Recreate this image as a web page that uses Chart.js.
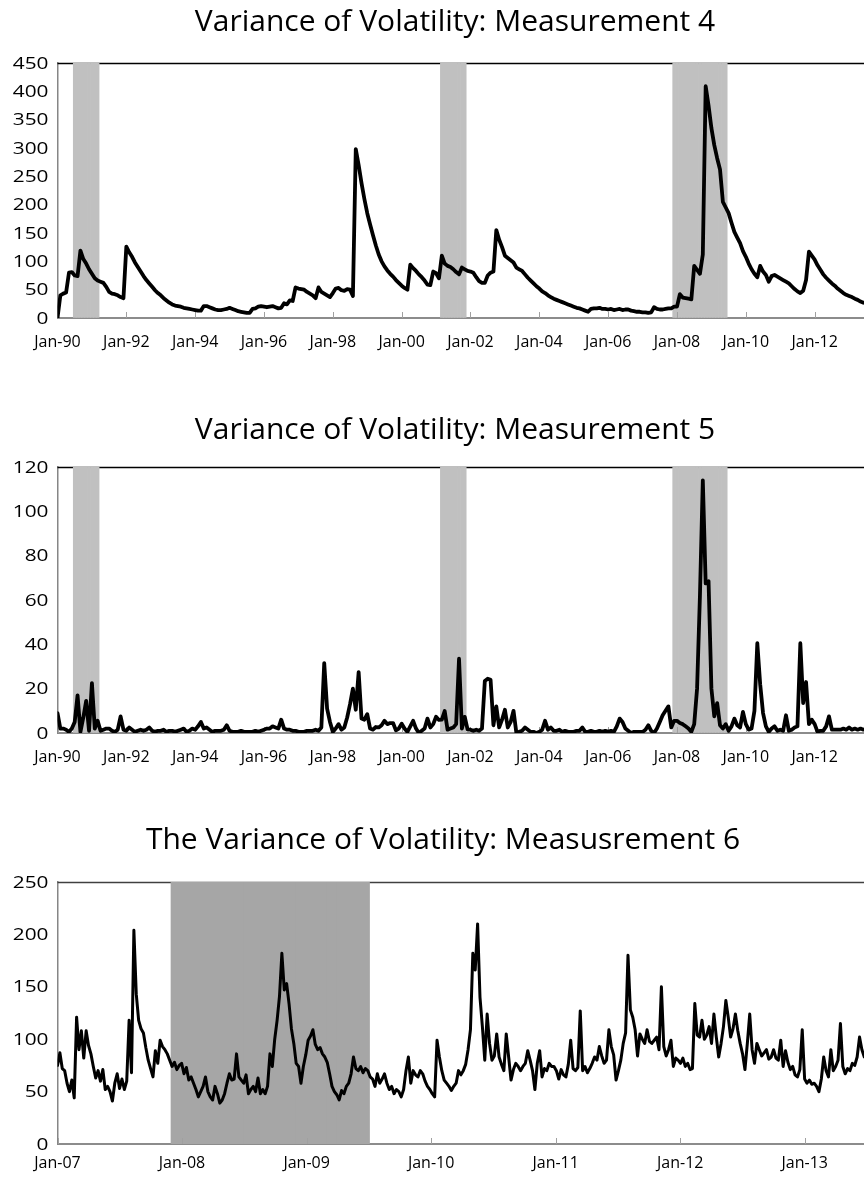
<!DOCTYPE html>
<html>
<head>
<meta charset="utf-8">
<title>Variance of Volatility</title>
<script src="https://cdn.jsdelivr.net/npm/chart.js@4.4.1/dist/chart.umd.min.js"></script>
<style>
  html, body { margin: 0; padding: 0; background: #fff; overflow: hidden; width: 864px; height: 1182px; }
  .panel { position: absolute; left: 0; }
</style>
</head>
<body>
<div class="panel" style="top:0;width:910px;height:352px"><canvas id="chartM4"></canvas></div>
<div class="panel" style="top:408px;width:910px;height:362px"><canvas id="chartM5"></canvas></div>
<div class="panel" style="top:818px;width:886px;height:364px"><canvas id="chartM6"></canvas></div>
<script>
// ---- Measurement 4: monthly, Jan-1990 onward ----
const m4_1990 = [0, 40, 43, 45, 80, 81, 75, 74, 119, 104, 96, 86];
const m4_1991 = [78, 70, 66, 64, 62, 55, 46, 43, 42, 40, 37, 35];
const m4_1992 = [126, 116, 108, 98, 90, 82, 74, 67, 61, 55, 49, 44];
const m4_1993 = [40, 35, 31, 27, 24, 22, 21, 20, 18, 17, 16, 15];
const m4_1994 = [14, 13, 13, 21, 21, 19, 17, 15, 14, 14, 15, 16];
const m4_1995 = [18, 16, 14, 12, 11, 10, 9, 9, 16, 17, 20, 21];
const m4_1996 = [20, 19, 20, 21, 19, 17, 18, 26, 24, 31, 30, 54];
const m4_1997 = [52, 51, 50, 46, 43, 40, 35, 54, 46, 43, 40, 37];
const m4_1998 = [44, 52, 53, 49, 48, 51, 50, 39, 298, 270, 238, 210];
const m4_1999 = [185, 165, 146, 128, 112, 100, 91, 84, 78, 73, 67, 62];
const m4_2000 = [57, 53, 50, 94, 88, 83, 77, 72, 66, 59, 58, 82];
const m4_2001 = [79, 70, 110, 96, 92, 90, 86, 81, 77, 89, 86, 83];
const m4_2002 = [82, 80, 72, 65, 62, 62, 75, 80, 82, 155, 138, 125];
const m4_2003 = [110, 106, 102, 98, 89, 86, 83, 77, 71, 66, 61, 56];
const m4_2004 = [52, 47, 44, 40, 37, 34, 32, 30, 28, 26, 24, 22];
const m4_2005 = [20, 18, 17, 15, 13, 11, 16, 17, 17, 18, 16, 16];
const m4_2006 = [15, 16, 14, 15, 16, 14, 15, 15, 13, 12, 11, 11];
const m4_2007 = [10, 10, 9, 10, 19, 16, 15, 15, 16, 17, 17, 20];
const m4_2008 = [20, 42, 36, 35, 34, 33, 92, 85, 78, 112, 409, 375];
const m4_2009 = [335, 305, 282, 262, 205, 195, 185, 168, 152, 142, 132, 118];
const m4_2010 = [108, 96, 86, 78, 72, 92, 82, 76, 64, 74, 76, 73];
const m4_2011 = [70, 67, 64, 61, 56, 51, 47, 44, 48, 67, 117, 110];
const m4_2012 = [103, 93, 85, 77, 71, 66, 61, 57, 52, 48, 44, 41];
const m4_2013 = [39, 37, 34, 32, 29, 27, 26, 24, 23, 22, 21, 20];

// ---- Measurement 5: monthly, Jan-1990 onward ----
const m5_1990 = [9, 2, 2, 1.5, 0.5, 2, 5, 17, 0.5, 7, 14.5, 1];
const m5_1991 = [22.5, 2, 5.5, 1, 1.5, 2, 2, 1, 0.5, 1.5, 7.5, 1.5];
const m5_1992 = [1, 2.5, 1.5, 0.5, 1, 1.5, 1, 1.5, 2.5, 1, 0.5, 1];
const m5_1993 = [1, 1.5, 0.5, 1, 1, 0.5, 1, 1.5, 2, 0.5, 1, 2];
const m5_1994 = [1.5, 3, 5, 2, 2.5, 1.5, 0.5, 1, 1, 1, 1.5, 3.5];
const m5_1995 = [1, 0.5, 0.5, 0.5, 1, 0.5, 0.5, 0.5, 0.5, 1, 0.5, 1];
const m5_1996 = [1.5, 2, 2, 3, 2.5, 2, 6, 2, 1.5, 1.5, 1, 1];
const m5_1997 = [0.5, 0.5, 0.5, 1, 1, 1, 1.5, 1, 2.5, 31.5, 11, 5];
const m5_1998 = [0.5, 2, 4, 1.5, 2.5, 7, 13, 20, 10.5, 27.5, 6.5, 6];
const m5_1999 = [8.5, 2, 1.5, 2.7, 2.5, 3.5, 5.5, 4, 4.5, 4.5, 1.2, 2];
const m5_2000 = [4.2, 2, 0.5, 3, 5.5, 2, 0, 1, 2, 6.5, 2.5, 4];
const m5_2001 = [7.3, 5.9, 6, 9.9, 1.5, 2, 2.5, 4, 33.5, 2, 7.3, 1.5];
const m5_2002 = [1.5, 1, 1.5, 1, 2, 23.5, 24.5, 24, 3.5, 12, 2.5, 6];
const m5_2003 = [10.5, 2.5, 5, 10, 0, 0.5, 1, 2.5, 1.5, 0.5, 0.5, 0];
const m5_2004 = [0.5, 1.5, 5.5, 1.5, 2.5, 1, 1, 1.5, 0.5, 1, 0.5, 0.5];
const m5_2005 = [0.5, 1, 1, 2.5, 0.5, 0.5, 1, 0.5, 0.5, 1, 0.5, 1];
const m5_2006 = [0.5, 1, 0.5, 3, 6.5, 5, 2, 1, 0, 0.5, 0.5, 0.5];
const m5_2007 = [0.5, 1.5, 3.5, 1, 0, 2, 5, 8, 10, 12, 2.5, 5.5];
const m5_2008 = [5.5, 4.5, 4, 3, 2, 0.5, 4, 20, 62, 114, 67.5, 68.5];
const m5_2009 = [20, 7.5, 13.5, 3.5, 2, 4, 1, 3, 6.5, 3.5, 2.5, 9.5];
const m5_2010 = [4, 1.5, 2, 10, 40.5, 22, 9, 3, 0.5, 2, 3, 1];
const m5_2011 = [1.5, 1, 8, 1, 1.5, 2.5, 3, 40.5, 13.5, 23, 4, 6];
const m5_2012 = [4, 0.5, 1, 1, 3, 7.5, 1.5, 1.5, 1.5, 1.5, 2, 1.5];
const m5_2013 = [2.5, 1.5, 2, 1.5, 2, 1.5, 2, 1.5, 2, 1.5, 1, 1];

// ---- Measurement 6: weekly, from the first week of 2007 ----
const m6_2007 = [75, 87, 72, 70, 58, 50, 61, 44, 121, 90, 108, 82, 108, 94, 86, 74, 63, 70, 60, 71, 52, 55, 50, 41, 58, 67, 53, 62, 52, 60, 118, 68, 204, 143, 118, 110, 106, 92, 80, 72, 64, 89, 77, 99, 93, 90, 86, 80, 74, 78, 71, 75];
const m6_2008 = [77, 67, 73, 61, 64, 58, 52, 45, 50, 55, 64, 50, 45, 42, 55, 48, 39, 42, 48, 58, 67, 61, 62, 86, 64, 61, 58, 66, 48, 52, 55, 50, 63, 48, 52, 48, 55, 86, 74, 100, 118, 141, 182, 147, 153, 134, 110, 96, 77, 74, 58, 74];
const m6_2009 = [85, 99, 103, 109, 95, 90, 92, 86, 83, 78, 67, 55, 50, 47, 42, 51, 48, 55, 58, 67, 83, 72, 70, 74, 68, 72, 70, 64, 62, 55, 67, 58, 62, 67, 58, 52, 55, 48, 52, 50, 45, 52, 70, 83, 58, 70, 66, 64, 70, 67, 60, 55];
const m6_2010 = [52, 48, 45, 99, 83, 70, 61, 58, 55, 51, 55, 58, 70, 66, 70, 76, 90, 109, 182, 166, 210, 140, 112, 80, 124, 96, 80, 84, 105, 83, 76, 70, 105, 83, 61, 71, 77, 74, 70, 74, 77, 89, 80, 70, 52, 77, 89, 64, 72, 70, 77, 74];
const m6_2011 = [74, 70, 62, 71, 66, 64, 76, 99, 72, 70, 73, 127, 70, 74, 68, 72, 77, 83, 80, 93, 84, 77, 80, 109, 93, 85, 61, 70, 80, 96, 106, 180, 128, 121, 109, 84, 105, 100, 96, 109, 98, 96, 99, 102, 90, 150, 93, 84, 90, 99, 74, 82];
const m6_2012 = [80, 77, 82, 74, 77, 71, 72, 134, 104, 102, 118, 100, 104, 112, 96, 124, 102, 83, 96, 112, 137, 121, 102, 110, 124, 108, 96, 86, 71, 96, 124, 90, 77, 96, 90, 84, 87, 90, 81, 83, 90, 82, 80, 99, 74, 89, 78, 71, 74, 66, 64, 71];
const m6_2013 = [109, 62, 58, 61, 57, 58, 55, 50, 62, 83, 70, 64, 90, 70, 74, 80, 115, 74, 67, 72, 70, 77, 75, 83, 102, 90, 83, 88, 80, 85, 90, 82];

// ---- Axis settings and recession periods ----
const titles = [
  'Variance of Volatility: Measurement 4',
  'Variance of Volatility: Measurement 5',
  'The Variance of Volatility: Measusrement 6'
];
const yTicks4 = [0, 450, 50];   // min, max, step
const yTicks5 = [0, 120, 20];
const yTicks6 = [0, 250, 50];
const recessions = [[1990, 7, 1991, 3], [2001, 3, 2001, 11], [2007, 12, 2009, 6]];

const FONT = "'Open Sans', 'Liberation Sans', sans-serif";
const monthlyStartYear = 1990;
const weeklyStartYear = 2007;
const daysPerYear = 365.25;

const measure4 = [].concat(m4_1990, m4_1991, m4_1992, m4_1993, m4_1994, m4_1995, m4_1996, m4_1997,
  m4_1998, m4_1999, m4_2000, m4_2001, m4_2002, m4_2003, m4_2004, m4_2005, m4_2006, m4_2007,
  m4_2008, m4_2009, m4_2010, m4_2011, m4_2012, m4_2013);
const measure5 = [].concat(m5_1990, m5_1991, m5_1992, m5_1993, m5_1994, m5_1995, m5_1996, m5_1997,
  m5_1998, m5_1999, m5_2000, m5_2001, m5_2002, m5_2003, m5_2004, m5_2005, m5_2006, m5_2007,
  m5_2008, m5_2009, m5_2010, m5_2011, m5_2012, m5_2013);
const measure6 = [].concat(m6_2007, m6_2008, m6_2009, m6_2010, m6_2011, m6_2012, m6_2013);

const monthlyPoints = vals => vals.map((v, i) => ({ x: monthlyStartYear + i / 12, y: v }));
const weeklyPoints = vals => vals.map((v, i) => ({ x: weeklyStartYear + i * 7 / daysPerYear, y: v }));

// One shaded bar per recession month, reaching the top of the value axis
function recessionBars(top, fromYear, midMonth) {
  const out = [];
  recessions.forEach(([y0, mo0, y1, mo1]) => {
    for (let k = y0 * 12 + mo0 - 1; k <= y1 * 12 + mo1 - 1; k++) {
      const x = Math.floor(k / 12) + (k % 12) / 12 + (midMonth ? 1 / 24 : 0);
      if (x >= fromYear) out.push({ x, y: top });
    }
  });
  return out;
}

const janLabel = v => 'Jan-' + String(((Math.round(v) % 100) + 100) % 100).padStart(2, '0');

// Plot-area top rule, inward x tick marks and the wide value-axis labels
const plotFrame = {
  id: 'plotFrame',
  beforeDatasetsDraw(chart, args, opts) {
    const { ctx, chartArea: a } = chart;
    ctx.save();
    ctx.strokeStyle = opts.topColor;
    ctx.lineWidth = 1.3;
    ctx.beginPath();
    ctx.moveTo(a.left, a.top + 0.5);
    ctx.lineTo(a.right, a.top + 0.5);
    ctx.stroke();
    ctx.restore();
  },
  afterDatasetDraw(chart, args) {
    if (args.meta.type !== 'bar') return;
    const { ctx, chartArea: a, scales: { x } } = chart;
    ctx.save();
    ctx.strokeStyle = '#a0a0a0';
    ctx.lineWidth = 1;
    x.ticks.forEach(t => {
      if (!t.label) return;
      const px = Math.round(x.getPixelForValue(t.value)) + 0.5;
      ctx.beginPath();
      ctx.moveTo(px, a.bottom);
      ctx.lineTo(px, a.bottom - 6);
      ctx.stroke();
    });
    ctx.restore();
  },
  afterDraw(chart, args, opts) {
    const { ctx, chartArea: a, scales: { y } } = chart;
    ctx.save();
    ctx.fillStyle = '#000';
    ctx.font = opts.ySize + 'px ' + FONT;
    ctx.textAlign = 'right';
    ctx.textBaseline = 'middle';
    y.ticks.forEach(t => {
      ctx.save();
      ctx.translate(a.left - 9, y.getPixelForValue(t.value) + 1);
      ctx.scale(opts.yStretch, 1);
      ctx.fillText(String(t.value), 0, 0);
      ctx.restore();
    });
    ctx.restore();
  }
};

function buildChart(id, o) {
  const hiddenGrid = { display: true, drawOnChartArea: false, drawTicks: false };
  return new Chart(document.getElementById(id), {
    type: 'line',
    data: {
      datasets: [
        {
          type: 'line', data: o.points, borderColor: '#000', borderWidth: o.lineWidth,
          pointRadius: 0, tension: 0, borderJoinStyle: 'round', borderCapStyle: 'round', order: 1
        },
        {
          type: 'bar', data: o.bars, backgroundColor: o.shade, borderWidth: 0,
          barPercentage: 1, categoryPercentage: 1, inflateAmount: o.inflate, order: 2
        }
      ]
    },
    options: {
      responsive: true,
      maintainAspectRatio: false,
      animation: false,
      devicePixelRatio: 1,
      layout: { padding: 0 },
      plugins: {
        legend: { display: false },
        tooltip: { enabled: false },
        title: {
          display: true, text: o.title, color: '#000',
          font: { family: FONT, size: 30, weight: 'normal' },
          padding: { top: 4, bottom: o.titleGap }
        },
        plotFrame: { topColor: o.topColor, ySize: 16, yStretch: 1.3 }
      },
      scales: {
        x: {
          type: 'linear', min: o.xMin, max: o.xMax, offset: false,
          grid: hiddenGrid,
          border: { display: true, color: '#8c8c8c', width: 2 },
          ticks: {
            stepSize: o.xStep, includeBounds: false, autoSkip: false, maxRotation: 0,
            color: '#000', font: { family: FONT, size: 16 }, padding: o.xPad,
            callback: v => (Math.abs(v - Math.round(v)) < 1e-6 && Math.round(v) <= o.lastLabel) ? janLabel(v) : ''
          },
          afterFit: s => { s.height = o.xHeight; }
        },
        y: {
          min: o.yTicks[0], max: o.yTicks[1],
          grid: hiddenGrid,
          border: { display: true, color: '#868686', width: 1.5 },
          ticks: { stepSize: o.yTicks[2], display: false },
          afterFit: s => { s.width = 57.5; }
        }
      }
    },
    plugins: [plotFrame]
  });
}

buildChart('chartM4', {
  title: titles[0], points: monthlyPoints(measure4), lineWidth: 3.8,
  bars: recessionBars(yTicks4[1], monthlyStartYear, false), shade: '#c0c0c0', inflate: 'auto', topColor: '#000',
  xMin: 1990, xMax: 2014.77, xStep: 2, lastLabel: 2012,
  yTicks: yTicks4, titleGap: 23, xHeight: 34, xPad: 15
});
buildChart('chartM5', {
  title: titles[1], points: monthlyPoints(measure5), lineWidth: 3.8,
  bars: recessionBars(yTicks5[1], monthlyStartYear, false), shade: '#c0c0c0', inflate: 'auto', topColor: '#000',
  xMin: 1990, xMax: 2014.77, xStep: 2, lastLabel: 2012,
  yTicks: yTicks5, titleGap: 19, xHeight: 37, xPad: 15
});
buildChart('chartM6', {
  title: titles[2], points: weeklyPoints(measure6), lineWidth: 3,
  bars: recessionBars(yTicks6[1], weeklyStartYear, true), shade: '#a6a6a6', inflate: 1, topColor: '#404040',
  xMin: 2007, xMax: 2013.652, xStep: 1, lastLabel: 2013,
  yTicks: yTicks6, titleGap: 24, xHeight: 38, xPad: 10
});
</script>
</body>
</html>
